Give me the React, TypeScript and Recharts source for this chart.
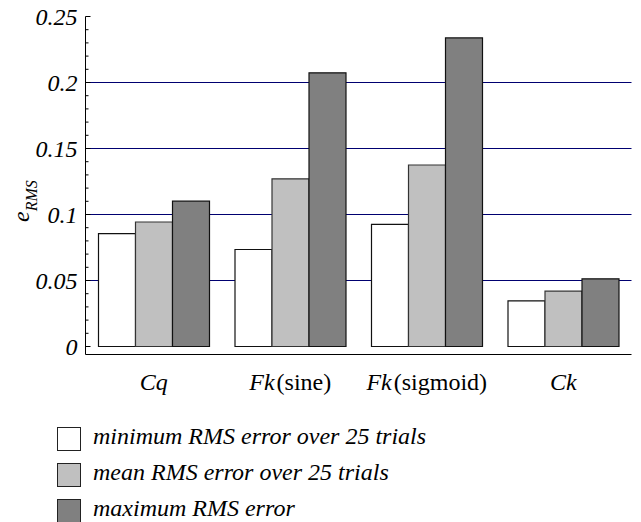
import { BarChart, Bar, XAxis, YAxis, CartesianGrid, Legend } from "recharts";

const categories = ["Cq", "Fk(sine)", "Fk(sigmoid)", "Ck"];
const minError = [0.0855, 0.0735, 0.0925, 0.0346];
const meanError = [0.0943, 0.127, 0.1375, 0.0419];
const maxError = [0.1101, 0.2073, 0.2338, 0.0513];

const seriesNames = [
  "minimum RMS error over 25 trials",
  "mean RMS error over 25 trials",
  "maximum RMS error",
];
const seriesFills = ["#ffffff", "#c0c0c0", "#808080"];

const majorTicks = [0, 0.05, 0.1, 0.15, 0.2, 0.25];
const minorTicks = [
  0, 0.01, 0.02, 0.03, 0.04, 0.05, 0.06, 0.07, 0.08, 0.09, 0.1, 0.11, 0.12,
  0.13, 0.14, 0.15, 0.16, 0.17, 0.18, 0.19, 0.2, 0.21, 0.22, 0.23, 0.24, 0.25,
];
const gridValues = [0.05, 0.1, 0.15, 0.2];

const data = categories.map((name, i) => ({
  name,
  min: minError[i],
  mean: meanError[i],
  max: maxError[i],
}));

const FONT = "Liberation Serif";
const DOMAIN: [number, number] = [-0.00606, 0.25];

const isMajor = (v: number) => majorTicks.some((m) => Math.abs(m - v) < 1e-9);

const LeftTick = (props: any) => {
  const { x, y, payload } = props;
  const v = payload.value;
  const major = isMajor(v);
  return (
    <g>
      <line x1={x} x2={x + (major ? 5 : 3)} y1={y} y2={y} stroke="#000" />
      {major && (
        <text x={x - 8} y={y + 8} textAnchor="end" fontFamily={FONT} fontStyle="italic" fontSize={24} fill="#000">
          {String(v)}
        </text>
      )}
    </g>
  );
};

const RightTick = (props: any) => {
  const { x, y, payload } = props;
  const major = isMajor(payload.value);
  return <line x1={x - (major ? 5 : 3)} x2={x} y1={y} y2={y} stroke="#000" />;
};

const CategoryTick = (props: any) => {
  const { x, y, payload } = props;
  const label: string = payload.value;
  const p = label.indexOf("(");
  const head = p >= 0 ? label.slice(0, p) : label;
  const tail = p >= 0 ? label.slice(p) : "";
  return (
    <text x={x} y={y + 35} textAnchor="middle" fontFamily={FONT} fontSize={24} fill="#000">
      <tspan fontStyle="italic">{head}</tspan>
      {tail && <tspan dx={2}>{tail}</tspan>}
    </text>
  );
};

const YLabel = () => (
  <text x={29} y={222} transform="rotate(-90 29 222)" fontFamily={FONT} fontStyle="italic" fontSize={24} fill="#000">
    e
    <tspan fontSize={16} dy={8}>
      RMS
    </tspan>
  </text>
);

const renderLegend = () => (
  <div style={{ position: "relative", width: 380, height: 95 }}>
    {seriesNames.map((name, i) => (
      <div
        key={name}
        style={{ position: "absolute", left: 0, top: i * 36, height: 24, display: "flex", alignItems: "center", whiteSpace: "nowrap" }}
      >
        <div style={{ width: 24, height: 24, boxSizing: "border-box", border: "1.5px solid #222", background: seriesFills[i] }} />
        <span style={{ marginLeft: 12, fontFamily: FONT, fontStyle: "italic", fontSize: 24, lineHeight: "24px", position: "relative", top: -3 }}>
          {name}
        </span>
      </div>
    ))}
  </div>
);

export default function App() {
  return (
    <div style={{ position: "absolute", left: 0, top: 0, background: "#fff" }}>
      <BarChart
        width={641}
        height={522}
        data={data}
        margin={{ top: 16.5, right: 9.5, bottom: 0, left: 0 }}
        barGap={0}
        barSize={37}
      >
        <CartesianGrid vertical={false} horizontalValues={gridValues} stroke="#000070" strokeWidth={1} />
        <XAxis dataKey="name" height={167.5} axisLine={{ stroke: "#000" }} tickLine={false} tickSize={0} tickMargin={0} tick={<CategoryTick />} interval={0} />
        <XAxis xAxisId="top" dataKey="name" orientation="top" height={0} axisLine={{ stroke: "#000" }} tickLine={false} tick={false} />
        <YAxis
          width={85.5}
          domain={DOMAIN}
          ticks={minorTicks}
          interval={0}
          allowDataOverflow
          axisLine={{ stroke: "#000" }}
          tickLine={false}
          tickSize={0}
          tickMargin={0}
          tick={<LeftTick />}
          label={{ content: () => <YLabel /> }}
        />
        <YAxis
          yAxisId="r"
          orientation="right"
          width={0}
          domain={DOMAIN}
          ticks={minorTicks}
          interval={0}
          allowDataOverflow
          axisLine={{ stroke: "#000" }}
          tickLine={false}
          tickSize={0}
          tickMargin={0}
          tick={<RightTick />}
        />
        <Legend layout="vertical" align="center" verticalAlign="middle" wrapperStyle={{ left: 57, top: 427, width: 380, height: 95 }} content={renderLegend} />
        <Bar dataKey="min" name={seriesNames[0]} fill={seriesFills[0]} stroke="#111" strokeWidth={1.2} isAnimationActive={false} />
        <Bar dataKey="mean" name={seriesNames[1]} fill={seriesFills[1]} stroke="#333" strokeWidth={1.2} isAnimationActive={false} />
        <Bar dataKey="max" name={seriesNames[2]} fill={seriesFills[2]} stroke="#111" strokeWidth={1.2} isAnimationActive={false} />
      </BarChart>
    </div>
  );
}
